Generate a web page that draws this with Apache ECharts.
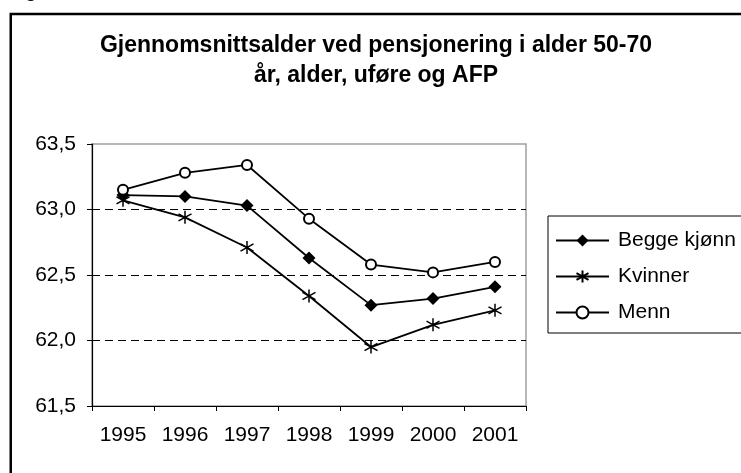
<!DOCTYPE html>
<html>
<head>
<meta charset="utf-8">
<script src="https://cdn.jsdelivr.net/npm/echarts@6/dist/echarts.min.js"></script>
<style>
html,body{margin:0;padding:0;background:#fff;}
#chart{width:741px;height:473px;}
</style>
</head>
<body>
<div id="chart"></div>
<script>
var titleLines = ['Gjennomsnittsalder ved pensjonering i alder 50-70', 'år, alder, uføre og AFP'];
var years = ['1995', '1996', '1997', '1998', '1999', '2000', '2001'];
var seriesNames = ['Begge kjønn', 'Kvinner', 'Menn'];
var beggeKjonn = [63.11, 63.10, 63.03, 62.63, 62.27, 62.32, 62.41];
var kvinner = [63.07, 62.94, 62.71, 62.34, 61.95, 62.12, 62.23];
var menn = [63.15, 63.28, 63.34, 62.93, 62.58, 62.52, 62.60];
var yMin = 61.5, yMax = 63.5, yStep = 0.5;

var FONT = '"Liberation Sans", Arial, sans-serif';
var chart = echarts.init(document.getElementById('chart'), null, {renderer: 'canvas'});
var asterisk = 'path://M1,0L1,2M0.1,0.45L1.9,1.55M0.1,1.55L1.9,0.45';

function mkSeries(name, data, symbol, size, fill, bw) {
  return {
    name: name, type: 'line', data: data,
    symbol: symbol, symbolSize: size,
    showAllSymbol: true,
    lineStyle: {color: '#000', width: 1.8},
    itemStyle: {color: fill, borderColor: '#000', borderWidth: bw},
    emphasis: {disabled: true},
    animation: false
  };
}

chart.setOption({
  backgroundColor: '#fff',
  animation: false,
  title: {
    show: false
  },
  legend: {
    orient: 'vertical',
    left: 548, top: 216,
    padding: [14, 9, 10, 7],
    itemGap: 15,
    itemWidth: 53, itemHeight: 15,
    borderColor: '#000', borderWidth: 1,
    data: seriesNames,
    textStyle: {fontFamily: FONT, fontSize: 21, color: '#000', padding: [0, 0, 0, 4]},
    selectedMode: false
  },
  grid: {
    left: 92, right: 215, top: 144, bottom: 67,
    show: true, borderColor: '#a0a0a0', borderWidth: 1.5, backgroundColor: 'transparent'
  },
  xAxis: {
    type: 'category', data: years, boundaryGap: true,
    axisLine: {lineStyle: {color: '#000', width: 1.2}},
    axisTick: {show: true, length: 5, lineStyle: {color: '#000'}},
    axisLabel: {fontFamily: FONT, fontSize: 21, color: '#000', margin: 19},
    splitLine: {show: false}
  },
  yAxis: {
    type: 'value', min: yMin, max: yMax, interval: yStep,
    axisLine: {show: true, lineStyle: {color: '#000', width: 1.2}},
    axisTick: {show: true, length: 5, lineStyle: {color: '#000'}},
    axisLabel: {fontFamily: FONT, fontSize: 21, color: '#000', margin: 16,
      formatter: function (v) { return v.toFixed(1).replace('.', ','); }},
    splitLine: {show: true, showMinLine: false, showMaxLine: false,
      lineStyle: {color: '#000', width: 1, type: [8, 5]}}
  },
  graphic: [
    {type: 'rect', shape: {x: 10.75, y: 14, width: 1000, height: 1000},
     style: {fill: 'none', stroke: '#000', lineWidth: 2.5}, silent: true},
    {type: 'text', x: 25, y: -9, style: {text: 'g', font: '21px ' + FONT, fill: '#000', verticalAlign: 'middle'}, silent: true},
    {type: 'text', x: 376, y: 31, silent: true,
     style: {text: titleLines.join('\n'), font: 'bold 23px ' + FONT, fill: '#000',
             align: 'center', verticalAlign: 'top', lineHeight: 30}}
  ],
  series: [
    mkSeries(seriesNames[0], beggeKjonn, 'diamond', 13, '#000', 0),
    mkSeries(seriesNames[1], kvinner, asterisk, 13, 'none', 1.5),
    mkSeries(seriesNames[2], menn, 'emptyCircle', 10, '#000', 1.5)
  ]
});
</script>
</body>
</html>
